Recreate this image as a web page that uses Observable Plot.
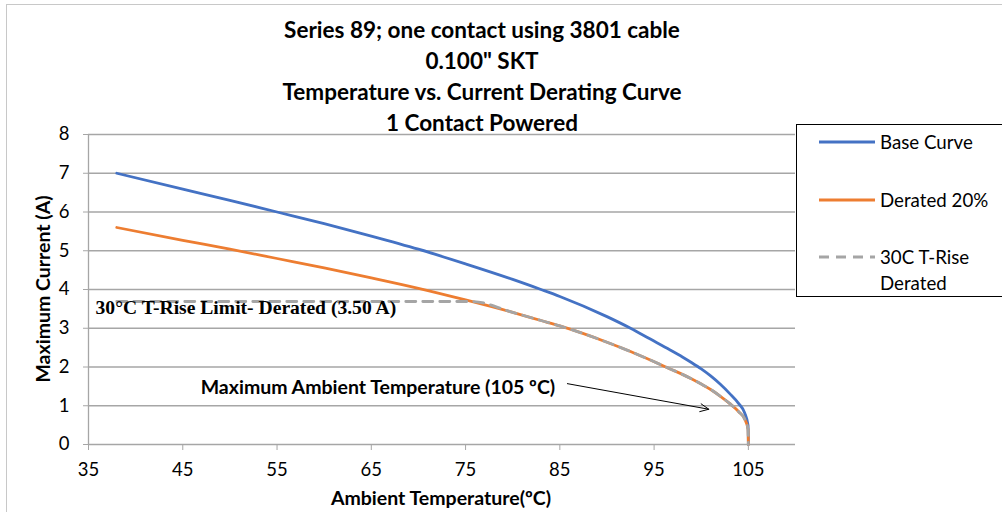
<!DOCTYPE html>
<html>
<head>
<meta charset="utf-8">
<script src="https://cdn.jsdelivr.net/npm/d3@7"></script>
<script src="https://cdn.jsdelivr.net/npm/@observablehq/plot@0.6"></script>
<style>
  html, body { margin: 0; padding: 0; background: #fff; }
  #wrap { position: relative; width: 1002px; height: 512px; overflow: hidden; font-family: Lato, "Open Sans", sans-serif; color: #000; }
  #frame { position: absolute; left: 6px; top: 4px; width: 1100px; height: 700px; border: 1px solid #c8c8c8; box-sizing: border-box; }
  #chart { position: absolute; left: 0; top: 0; }
  #title { position: absolute; left: 0; top: 14px; width: 964px; text-align: center; font-weight: bold; font-size: 22.5px; line-height: 31px; }
  #ylabel { position: absolute; left: 42px; top: 289px; transform: translate(-50%, -50%) rotate(-90deg); font-weight: bold; font-size: 19.5px; white-space: nowrap; }
  #xlabel { position: absolute; left: 441px; top: 497px; transform: translate(-50%, -50%); font-weight: bold; font-size: 19.5px; white-space: nowrap; }
  #legend { position: absolute; left: 796px; top: 124px; width: 230px; height: 173px; border: 1.5px solid #000; box-sizing: border-box; background: #fff; }
  .item { position: absolute; left: 0; font-size: 18.7px; }
  .item svg { position: absolute; left: 22px; }
  .item span { position: absolute; left: 83px; white-space: nowrap; line-height: 26px; }
</style>
</head>
<body>
<div id="wrap">
  <div id="frame"></div>
  <div id="chart"></div>
  <div id="title"></div>
  <div id="ylabel">Maximum Current (A)</div>
  <div id="xlabel">Ambient Temperature(ºC)</div>
  <div id="legend"></div>
</div>
<script>
// ---- data ----
const titleLines = ["Series 89; one contact using 3801 cable", "0.100\" SKT", "Temperature vs. Current Derating Curve", "1 Contact Powered"];
const seriesNames = ["Base Curve", "Derated 20%", "30C T-Rise Derated"];
const seriesColors = ["#4472C4", "#ED7D31", "#A5A5A5"];

const temps     = [38,   45,   50,   55,   60,   65,   70,   75,   80,   83,   85,   90,   92.5, 94.6, 96.7, 98,   99,   100,  101,  102,  103,  104,  104.6, 104.97, 105];
const baseCurve = [7.00, 6.59, 6.30, 6.00, 5.70, 5.38, 5.04, 4.66, 4.26, 4.00, 3.82, 3.30, 3.00, 2.72, 2.44, 2.26, 2.11, 1.95, 1.77, 1.56, 1.32, 1.05, 0.82,  0.49,   0];
const derated   = [5.60, 5.27, 5.04, 4.80, 4.56, 4.30, 4.03, 3.73, 3.41, 3.20, 3.06, 2.64, 2.40, 2.18, 1.95, 1.81, 1.69, 1.56, 1.42, 1.25, 1.06, 0.84, 0.66,  0.39,   0];

const tRiseTemps  = [38,   75.7, 80,   83,   85,   90,   92.5, 94.6, 96.7, 98,   99,   100,  101,  102,  103,  104,  104.6, 104.97, 105];
const tRiseValues = [3.69, 3.69, 3.41, 3.20, 3.06, 2.64, 2.40, 2.18, 1.95, 1.81, 1.69, 1.56, 1.42, 1.25, 1.06, 0.84, 0.66,  0.39,   0];

const xTicks = [35, 45, 55, 65, 75, 85, 95, 105];
const yTicks = [0, 1, 2, 3, 4, 5, 6, 7, 8];
const xDomain = [35, 110];
const yDomain = [0, 8];

const limitLabel = {x: 35.75, y: 3.53, text: "30°C T-Rise Limit- Derated (3.50 A)"};
const ambientLabel = {x: 46.9, y: 1.47, text: "Maximum Ambient Temperature (105 ºC)"};
const ambientArrow = {x1: 85.8, y1: 1.57, x2: 100.8, y2: 0.91};

// ---- build ----
const base = temps.map((t, i) => ({t, v: baseCurve[i]}));
const der = temps.map((t, i) => ({t, v: derated[i]}));
const rise = tRiseTemps.map((t, i) => ({t, v: tRiseValues[i]}));

const gridColor = "#a6a6a6";
const plot = Plot.plot({
  width: 1002,
  height: 512,
  marginLeft: 88,
  marginRight: 207,
  marginTop: 134,
  marginBottom: 68,
  style: {fontFamily: "Lato, 'Open Sans', sans-serif", fontSize: "18.5px", background: "transparent", color: "#000"},
  x: {domain: xDomain, ticks: xTicks, label: null},
  y: {domain: yDomain, ticks: yTicks, label: null},
  marks: [
    Plot.gridY(yTicks.filter(d => d > 0), {stroke: gridColor, strokeOpacity: 1, strokeWidth: 1.3}),
    Plot.ruleY([0], {stroke: gridColor, strokeWidth: 1.3}),
    Plot.ruleX([35], {stroke: gridColor, strokeWidth: 1.3}),
    Plot.axisY({ticks: yTicks, tickSize: 5, tickPadding: 14, stroke: gridColor, strokeOpacity: 1, fill: "#000", label: null, tickFormat: d => String(d)}),
    Plot.axisX({ticks: xTicks, tickSize: 6, tickPadding: 12, stroke: gridColor, strokeOpacity: 1, fill: "#000", label: null, tickFormat: d => String(d)}),
    Plot.line(base, {x: "t", y: "v", stroke: seriesColors[0], strokeWidth: 2.8, curve: "monotone-x"}),
    Plot.line(der, {x: "t", y: "v", stroke: seriesColors[1], strokeWidth: 2.8, curve: "monotone-x"}),
    Plot.line(rise, {x: "t", y: "v", stroke: seriesColors[2], strokeWidth: 2.8, strokeDasharray: "10,7", curve: "monotone-x"}),
    Plot.text([limitLabel], {x: "x", y: "y", text: "text", textAnchor: "start", fontWeight: "bold", fontSize: 19.6, fontFamily: "'Liberation Serif', 'DejaVu Serif', serif", fill: "#000"}),
    Plot.text([ambientLabel], {x: "x", y: "y", text: "text", textAnchor: "start", fontWeight: "bold", fontSize: 19.5, fill: "#000"}),
    Plot.arrow([ambientArrow], {x1: "x1", y1: "y1", x2: "x2", y2: "y2", stroke: "#000", strokeWidth: 1, headLength: 14, headAngle: 50})
  ]
});
document.getElementById("chart").appendChild(plot);

document.getElementById("title").innerHTML = titleLines.map(s => s.replace(/"/g, "&quot;")).join("<br>");

const legendRows = [
  {y: 17, label: "Base Curve", color: seriesColors[0], dash: null},
  {y: 75, label: "Derated 20%", color: seriesColors[1], dash: null},
  {y: 132, label: "30C T-Rise<br>Derated", color: seriesColors[2], dash: "10,7"}
];
const leg = document.getElementById("legend");
legendRows.forEach(r => {
  const div = document.createElement("div");
  div.className = "item";
  div.style.top = r.y + "px";
  div.innerHTML = `<svg width="56" height="6" style="top:-3px"><line x1="0" x2="56" y1="3" y2="3" stroke="${r.color}" stroke-width="3" ${r.dash ? `stroke-dasharray="${r.dash}"` : ""}/></svg><span style="top:-13px">${r.label}</span>`;
  leg.appendChild(div);
});
</script>
</body>
</html>
